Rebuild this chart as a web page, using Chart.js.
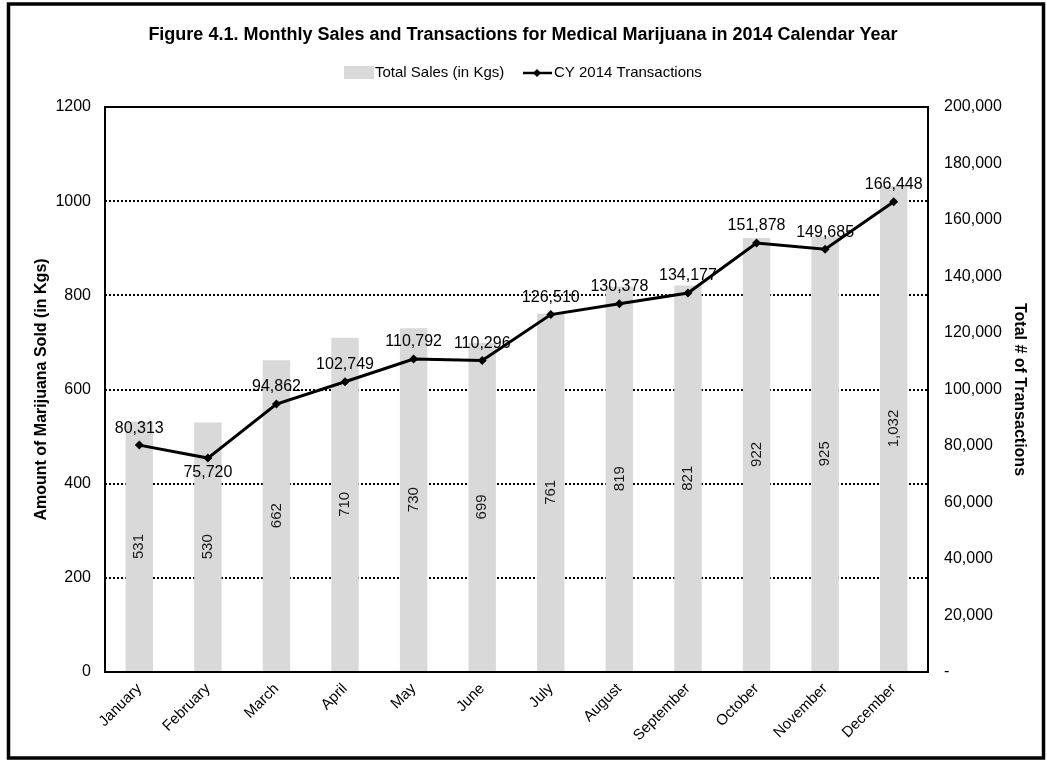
<!DOCTYPE html>
<html>
<head>
<meta charset="utf-8">
<script src="https://cdn.jsdelivr.net/npm/chart.js@4.4.1/dist/chart.umd.min.js"></script>
<style>
  html, body { margin: 0; padding: 0; background: #fff; }
  #wrap { width: 1047px; height: 760px; position: relative; }
</style>
</head>
<body>
<div id="wrap"><canvas id="salesChart" width="1047" height="760"></canvas></div>
<script>
// Chart data
const months = ['January', 'February', 'March', 'April', 'May', 'June',
  'July', 'August', 'September', 'October', 'November', 'December'];
const salesKgs = [531, 530, 662, 710, 730, 699, 761, 819, 821, 922, 925, 1032];
const transactions = [80313, 75720, 94862, 102749, 110792, 110296,
  126510, 130378, 134177, 151878, 149685, 166448];
const labelBelow = ['February'];

const FONT = '"Liberation Sans Narrow", "Arial Narrow", "Liberation Sans", Arial, sans-serif';
const fmt = (v) => v.toLocaleString('en-US');

// Frame, plot border, legend, title and value labels
const decorations = {
  id: 'decorations',
  afterDraw(chart) {
    const ctx = chart.ctx;
    const area = chart.chartArea;
    ctx.save();

    // outer frame
    ctx.strokeStyle = '#000';
    ctx.lineWidth = 3.5;
    ctx.strokeRect(8.5, 4, 1035, 754);

    // plot frame
    ctx.lineWidth = 2;
    ctx.strokeRect(area.left, area.top, area.right - area.left, area.bottom - area.top);

    // title
    ctx.fillStyle = '#000';
    ctx.font = 'bold 18px ' + FONT;
    ctx.textAlign = 'center';
    ctx.textBaseline = 'middle';
    ctx.fillText('Figure 4.1. Monthly Sales and Transactions for Medical Marijuana in 2014 Calendar Year', 523, 35);

    // legend
    ctx.font = '15px ' + FONT;
    ctx.textAlign = 'left';
    ctx.fillStyle = '#d9d9d9';
    ctx.fillRect(344, 66, 30, 13);
    ctx.fillStyle = '#000';
    ctx.fillText('Total Sales (in Kgs)', 375, 73);
    ctx.strokeStyle = '#000';
    ctx.lineWidth = 2.5;
    ctx.beginPath();
    ctx.moveTo(523, 73);
    ctx.lineTo(552, 73);
    ctx.stroke();
    ctx.beginPath();
    ctx.moveTo(537, 69); ctx.lineTo(541, 73); ctx.lineTo(537, 77); ctx.lineTo(533, 73);
    ctx.closePath();
    ctx.fill();
    ctx.fillText('CY 2014 Transactions', 554, 73);

    // bar value labels (rotated)
    const barMeta = chart.getDatasetMeta(1);
    ctx.font = '15px ' + FONT;
    ctx.fillStyle = '#1a1a1a';
    ctx.textAlign = 'center';
    barMeta.data.forEach((bar, i) => {
      const cy = (bar.y + bar.base) / 2;
      ctx.save();
      ctx.translate(bar.x, cy);
      ctx.rotate(-Math.PI / 2);
      ctx.fillText(fmt(salesKgs[i]), 0, 0);
      ctx.restore();
    });

    // line value labels
    const lineMeta = chart.getDatasetMeta(0);
    ctx.font = '16px ' + FONT;
    ctx.fillStyle = '#000';
    lineMeta.data.forEach((pt, i) => {
      const below = labelBelow.includes(months[i]);
      ctx.fillText(fmt(transactions[i]), pt.x, pt.y + (below ? 15 : -17));
    });

    ctx.restore();
  }
};

new Chart(document.getElementById('salesChart').getContext('2d'), {
  data: {
    labels: months,
    datasets: [
      {
        type: 'line',
        label: 'CY 2014 Transactions',
        data: transactions,
        yAxisID: 'yRight',
        borderColor: '#000',
        backgroundColor: '#000',
        borderWidth: 3,
        pointStyle: 'rectRot',
        pointRadius: 4.5,
        pointBackgroundColor: '#000',
        pointBorderWidth: 0,
        tension: 0,
        order: 0,
      },
      {
        type: 'bar',
        label: 'Total Sales (in Kgs)',
        data: salesKgs,
        yAxisID: 'yLeft',
        backgroundColor: '#d9d9d9',
        barPercentage: 0.4,
        categoryPercentage: 1,
        order: 1,
      },
    ],
  },
  options: {
    responsive: false,
    animation: false,
    layout: { padding: { top: 107, left: 0, right: 0, bottom: 0 } },
    plugins: {
      legend: { display: false },
      title: { display: false },
      tooltip: { enabled: false },
    },
    scales: {
      x: {
        grid: { display: false, drawTicks: false },
        border: { display: false },
        ticks: {
          color: '#000',
          font: { family: FONT, size: 15 },
          maxRotation: 45,
          minRotation: 45,
          padding: 8,
        },
        afterFit: (s) => { s.height = 88; },
      },
      yLeft: {
        position: 'left',
        min: 0,
        max: 1200,
        ticks: {
          stepSize: 200,
          color: '#000',
          font: { family: FONT, size: 16 },
          padding: 14,
          callback: (v) => String(v),
        },
        grid: {
          drawTicks: false,
          color: (c) => (c.tick.value === 0 || c.tick.value === 1200) ? 'rgba(0,0,0,0)' : '#000',
          lineWidth: 2,
        },
        border: { display: false, dash: [2, 2] },
        title: {
          display: true,
          text: 'Amount of Marijuana Sold (in Kgs)',
          color: '#000',
          font: { family: FONT, size: 16, weight: 'bold' },
          padding: { top: 32, bottom: 0 },
        },
        afterFit: (s) => { s.width = 105; },
      },
      yRight: {
        position: 'right',
        min: 0,
        max: 200000,
        ticks: {
          stepSize: 20000,
          color: '#000',
          font: { family: FONT, size: 16 },
          padding: 16,
          callback: (v) => (v === 0 ? '-' : fmt(v)),
        },
        grid: { display: false, drawTicks: false },
        border: { display: false },
        title: {
          display: true,
          text: 'Total # of Transactions',
          color: '#000',
          font: { family: FONT, size: 16, weight: 'bold' },
          padding: { top: 18, bottom: 0 },
        },
        afterFit: (s) => { s.width = 119; },
      },
    },
  },
  plugins: [decorations],
});
</script>
</body>
</html>
